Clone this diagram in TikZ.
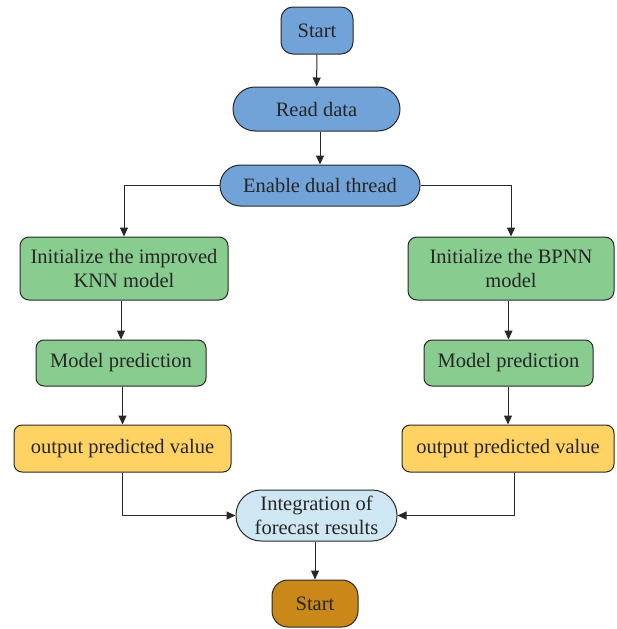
\documentclass[tikz,border=0pt]{standalone}
\usepackage{fontspec}
\setmainfont{Liberation Serif}
\usetikzlibrary{arrows.meta}
\definecolor{cblue}{RGB}{114,163,216}
\definecolor{cgreen}{RGB}{136,204,143}
\definecolor{cyellow}{RGB}{255,210,100}
\definecolor{clight}{RGB}{207,230,243}
\definecolor{corange}{RGB}{201,136,24}
\definecolor{cline}{RGB}{40,40,40}
\begin{document}
\begin{tikzpicture}[x=1pt,y=-1pt,
  box/.style={draw=cline,line width=1pt,inner sep=0pt,align=center,
    font=\fontsize{20.5}{24}\selectfont,text=black!85},
  pill/.style={box,rounded corners=#1},
  arr/.style={draw=cline,line width=1pt,-{Triangle[length=9pt,width=8pt]}}]
\useasboundingbox (0,0) rectangle (616,629);
\node[pill=12pt,fill=cblue,minimum width=72pt,minimum height=47pt] (s) at (317,30.5) {Start};
\node[pill=22pt,fill=cblue,minimum width=167pt,minimum height=44pt] (r) at (316.5,109) {Read data};
\node[pill=20.5pt,fill=cblue,minimum width=200pt,minimum height=41pt] (e) at (320,185.5) {Enable dual thread};
\node[pill=9pt,fill=cgreen,minimum width=208pt,minimum height=63pt] (li) at (124,268.5) {Initialize the improved\\KNN model};
\node[pill=9pt,fill=cgreen,minimum width=206pt,minimum height=63pt] (ri) at (511,268.5) {Initialize the BPNN\\model};
\node[pill=8pt,fill=cgreen,minimum width=170pt,minimum height=46pt] (lm) at (121,363) {Model prediction};
\node[pill=8pt,fill=cgreen,minimum width=169pt,minimum height=46pt] (rm) at (508.5,363) {Model prediction};
\node[pill=8pt,fill=cyellow,minimum width=217pt,minimum height=47pt] (lo) at (122.5,448.5) {output predicted value};
\node[pill=8pt,fill=cyellow,minimum width=212pt,minimum height=47pt] (ro) at (508,448.5) {output predicted value};
\node[pill=25pt,fill=clight,minimum width=161pt,minimum height=51pt] (ig) at (316.5,515.5) {Integration of\\forecast results};
\node[pill=16pt,fill=corange,minimum width=86pt,minimum height=47pt] (en) at (315,603.5) {Start};
\draw[arr] (s) -- (r);
\draw[arr] (r.south -| e.north) -- (e);
\draw[arr] (e.west) -| (li.north);
\draw[arr] (e.east) -| (ri.north);
\draw[arr] (li.south -| lm.north) -- (lm);
\draw[arr] (ri.south -| rm.north) -- (rm);
\draw[arr] (lm.south -| lo.north) -- (lo);
\draw[arr] (rm.south -| ro.north) -- (ro);
\draw[arr] (lo.south) |- (ig.west);
\draw[arr] ([xshift=6pt]ro.south) |- (ig.east);
\draw[arr] (ig.south -| en.north) -- (en);
\end{tikzpicture}
\end{document}
